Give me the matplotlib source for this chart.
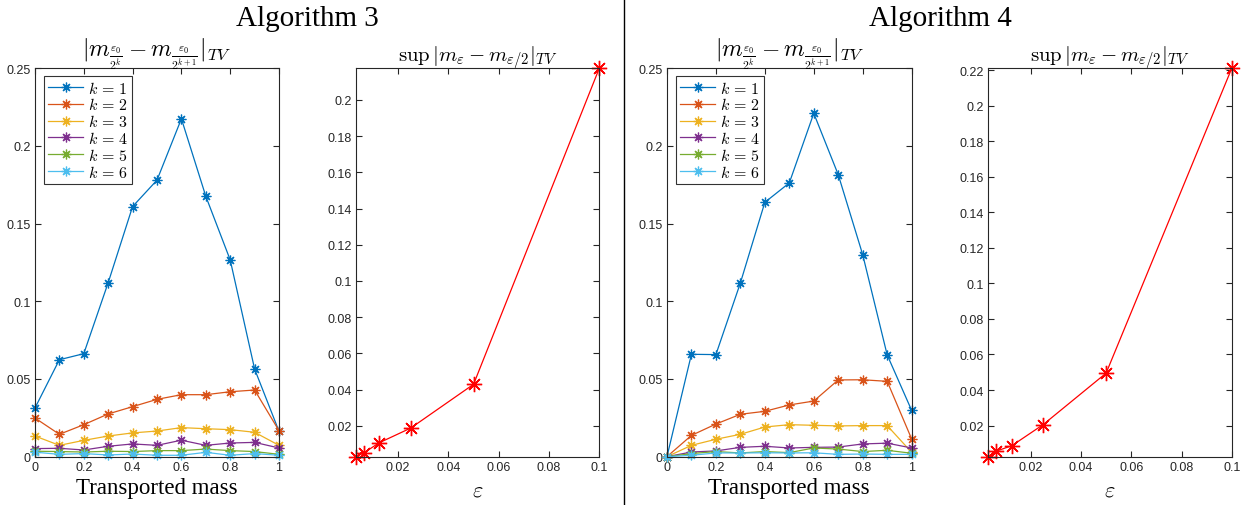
import numpy as np
import matplotlib.pyplot as plt
from matplotlib.lines import Line2D
from matplotlib.ticker import FuncFormatter

plt.rcParams['mathtext.fontset'] = 'cm'
plt.rcParams['font.family'] = ['Liberation Sans', 'DejaVu Sans']

# масса, переносимая между мерами
mass = [0, 0.1, 0.2, 0.3, 0.4, 0.5, 0.6, 0.7, 0.8, 0.9, 1.0]

# Алгоритм 3: |m_{eps0/2^k} - m_{eps0/2^{k+1}}|_TV, k = 1..6
alg3_k1 = [0.0313, 0.0624, 0.0663, 0.1120, 0.1610, 0.1780, 0.2175, 0.1676, 0.1266, 0.0564, 0.0163]
alg3_k2 = [0.0249, 0.0144, 0.0206, 0.0275, 0.0322, 0.0369, 0.0399, 0.0399, 0.0418, 0.0429, 0.0167]
alg3_k3 = [0.0133, 0.0073, 0.0105, 0.0133, 0.0153, 0.0165, 0.0187, 0.0180, 0.0174, 0.0157, 0.0073]
alg3_k4 = [0.0052, 0.0054, 0.0043, 0.0067, 0.0082, 0.0073, 0.0106, 0.0073, 0.0088, 0.0092, 0.0056]
alg3_k5 = [0.0035, 0.0033, 0.0030, 0.0035, 0.0033, 0.0039, 0.0039, 0.0049, 0.0039, 0.0033, 0.0015]
alg3_k6 = [0.0029, 0.0015, 0.0020, 0.0011, 0.0017, 0.0009, 0.0009, 0.0028, 0.0009, 0.0020, 0.0009]

# Алгоритм 4
alg4_k1 = [0.0, 0.0659, 0.0657, 0.1118, 0.1637, 0.1762, 0.2210, 0.1815, 0.1300, 0.0655, 0.0298]
alg4_k2 = [0.0, 0.0137, 0.0210, 0.0273, 0.0292, 0.0333, 0.0358, 0.0494, 0.0495, 0.0485, 0.0114]
alg4_k3 = [0.0, 0.0073, 0.0112, 0.0144, 0.0191, 0.0206, 0.0202, 0.0198, 0.0200, 0.0200, 0.0028]
alg4_k4 = [0.0, 0.0030, 0.0037, 0.0060, 0.0067, 0.0056, 0.0060, 0.0062, 0.0082, 0.0087, 0.0056]
alg4_k5 = [0.0, 0.0020, 0.0033, 0.0024, 0.0033, 0.0026, 0.0056, 0.0049, 0.0033, 0.0041, 0.0022]
alg4_k6 = [0.0, 0.0009, 0.0024, 0.0024, 0.0025, 0.0024, 0.0025, 0.0015, 0.0017, 0.0015, 0.0015]

# sup по массе в зависимости от epsilon
eps = [0.1, 0.05, 0.025, 0.0125, 0.00625, 0.003125]
sup_alg3 = [0.2175, 0.0429, 0.0187, 0.0106, 0.0049, 0.0029]
sup_alg4 = [0.2210, 0.0495, 0.0206, 0.0087, 0.0056, 0.0025]

k_labels = [r'$k\,=\,1$', r'$k\,=\,2$', r'$k\,=\,3$',
            r'$k\,=\,4$', r'$k\,=\,5$', r'$k\,=\,6$']
colors = ['#0072BD', '#D95319', '#EDB120', '#7E2F8E', '#77AC30', '#4DBEEE']

star = (8, 2, 0)
tick_color = '#262626'


def fmt(v, pos):
    s = '%.4f' % v
    s = s.rstrip('0').rstrip('.')
    return s


def style_axes(ax):
    ax.tick_params(direction='in', top=True, right=True, length=4,
                   labelsize=9, colors=tick_color, pad=3)
    for sp in ax.spines.values():
        sp.set_color(tick_color)
        sp.set_linewidth(0.8)
    ax.xaxis.set_major_formatter(FuncFormatter(fmt))
    ax.yaxis.set_major_formatter(FuncFormatter(fmt))


def plot_mass(ax, curves):
    for y, c, lab in zip(curves, colors, k_labels):
        ax.plot(mass, y, '-', color=c, marker=star, markersize=7,
                markeredgewidth=0.9, linewidth=0.9, label=lab, clip_on=False)
    ax.set_xlim(0, 1)
    ax.set_ylim(0, 0.25)
    ax.set_xticks([0, 0.2, 0.4, 0.6, 0.8, 1])
    ax.set_yticks([0, 0.05, 0.1, 0.15, 0.2, 0.25])
    style_axes(ax)
    ax.set_title(r'$|m_{\frac{\varepsilon_0}{2^k}} - m_{\frac{\varepsilon_0}{2^{k+1}}}|_{TV}$',
                 fontsize=17, pad=9)
    ax.set_xlabel('Transported mass', family='Liberation Serif', fontsize=16.5, labelpad=3)
    leg = ax.legend(loc='upper left', fontsize=11.5, frameon=True, fancybox=False,
                    edgecolor='black', handlelength=2.2, borderpad=0.25,
                    labelspacing=0.05, handletextpad=0.3, borderaxespad=0,
                    bbox_to_anchor=(0.037, 0.981))
    leg.get_frame().set_linewidth(0.8)


def plot_sup(ax, vals, yticks):
    ax.plot(eps, vals, 'r-', marker=star, markersize=11, markeredgewidth=1.0,
            linewidth=0.9, clip_on=False)
    ax.set_xlim(min(eps), max(eps))
    ax.set_ylim(min(vals), max(vals))
    ax.set_xticks([0.02, 0.04, 0.06, 0.08, 0.1])
    ax.set_yticks(yticks)
    style_axes(ax)
    ax.set_title(r'$\mathrm{sup}\,|m_\varepsilon - m_{\varepsilon/2}|_{TV}$', fontsize=15, pad=5)
    ax.set_xlabel(r'$\varepsilon$', fontsize=16, labelpad=5)


fig = plt.figure(figsize=(12.49, 5.06), dpi=100)

bottom, height = 0.0955, 0.7676
ax1 = fig.add_axes([0.0280, bottom, 0.1954, height])
ax2 = fig.add_axes([0.2848, bottom, 0.1950, height])
ax3 = fig.add_axes([0.5340, bottom, 0.1959, height])
ax4 = fig.add_axes([0.7913, bottom, 0.1949, height])

plot_mass(ax1, [alg3_k1, alg3_k2, alg3_k3, alg3_k4, alg3_k5, alg3_k6])
plot_sup(ax2, sup_alg3, np.arange(0.02, 0.21, 0.02))
plot_mass(ax3, [alg4_k1, alg4_k2, alg4_k3, alg4_k4, alg4_k5, alg4_k6])
plot_sup(ax4, sup_alg4, np.arange(0.02, 0.23, 0.02))

fig.text(0.246, 0.962, 'Algorithm 3', ha='center', va='center',
         family='Liberation Serif', fontsize=21)
fig.text(0.753, 0.962, 'Algorithm 4', ha='center', va='center',
         family='Liberation Serif', fontsize=21)

# вертикальный разделитель между алгоритмами
fig.add_artist(Line2D([0.4998, 0.4998], [0.0, 1.0], color='black', linewidth=1.0))

fig.savefig('out.png', dpi=100)
